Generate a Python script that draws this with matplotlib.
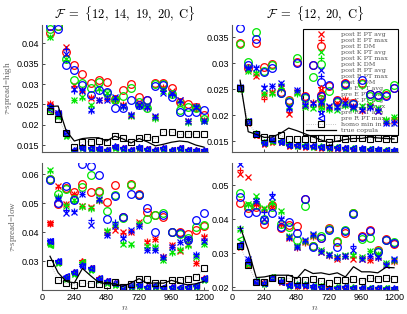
import matplotlib
matplotlib.use('Agg')
import matplotlib.pyplot as plt
from matplotlib.ticker import FuncFormatter
import numpy as np

plt.rcParams['font.family'] = ['Liberation Sans', 'DejaVu Sans']
plt.rcParams['mathtext.fontset'] = 'cm'

n = [60, 120, 180, 240, 300, 360, 420, 480, 540, 600, 660, 720, 780, 840, 900, 960, 1020, 1080, 1140, 1200]

# all values below in units of 1e-3
# ---- top left: F = {12,14,19,20,C}, tau-spread high
tl_dm_E = [42.5, 44.4, 37.9, 34.6, 32.6, 30.2, 31.0, 30.5, 26.4, 28.5, 30.0, 26.8, 26.2, 30.2, 30.2, 29.0, 25.6, 25.2, 24.4, 22.3]
tl_dm_K = [43.6, 44.4, 36.2, 31.0, 30.3, 29.1, 30.5, 27.8, 26.0, 27.0, 29.0, 25.6, 24.2, 30.0, 30.0, 27.6, 23.6, 24.4, 24.0, 21.5]
tl_dm_R = [44.4, 43.6, 34.6, 33.4, 29.7, 27.4, 28.6, 28.0, 24.0, 24.0, 26.0, 24.8, 26.0, 29.6, 29.8, 26.8, 23.2, 23.2, 23.2, 23.6]
tl_avg_E = [25.2, 22.8, 39.1, 29.7, 28.6, 26.5, 26.0, 26.6, 26.4, 24.8, 22.4, 25.0, 24.4, 22.0, 29.0, 28.2, 26.0, 20.8, 24.6, 21.2]
tl_avg_K = [41.7, 22.4, 36.2, 26.2, 26.8, 24.8, 29.1, 27.8, 26.0, 24.6, 22.2, 24.6, 24.8, 21.6, 28.4, 27.6, 25.4, 20.6, 24.2, 21.0]
tl_avg_R = [24.4, 23.0, 37.4, 28.8, 28.4, 23.6, 26.2, 26.2, 26.7, 24.6, 22.4, 24.8, 24.4, 22.2, 27.8, 27.7, 26.0, 20.8, 24.4, 21.0]
tl_max_E = [25.4, 22.6, 38.6, 29.6, 28.2, 26.7, 26.2, 26.4, 26.6, 25.0, 22.2, 24.8, 24.2, 21.8, 29.4, 27.9, 25.8, 21.0, 24.2, 21.2]
tl_max_K = [41.5, 22.2, 36.0, 26.0, 26.6, 24.6, 28.6, 27.6, 26.2, 24.4, 22.4, 24.6, 24.6, 21.4, 28.6, 27.4, 25.6, 20.4, 24.4, 21.2]
tl_max_R = [24.2, 23.2, 38.6, 28.4, 28.6, 23.4, 26.0, 26.4, 26.4, 24.4, 22.6, 24.6, 24.2, 22.0, 28.2, 27.4, 25.6, 20.8, 24.6, 20.8]
tl_pavg_E = [24.8, 22.6, 18.0, 13.5, 14.5, 14.3, 14.1, 13.9, 14.6, 14.3, 13.8, 14.4, 14.1, 13.8, 14.2, 13.9, 14.3, 13.8, 13.7, 13.6]
tl_pavg_K = [24.4, 22.2, 17.2, 13.3, 14.3, 14.1, 13.9, 13.7, 14.4, 14.1, 13.6, 14.2, 13.9, 13.6, 14.0, 13.7, 14.1, 13.6, 13.5, 13.4]
tl_pavg_R = [24.6, 22.9, 18.1, 13.9, 14.5, 14.4, 14.2, 13.9, 14.7, 14.3, 13.9, 14.5, 14.1, 13.9, 14.3, 13.9, 14.3, 13.9, 13.7, 13.7]
tl_pmax_E = [23.6, 22.4, 17.8, 13.6, 14.4, 14.2, 14.0, 13.8, 14.5, 14.2, 13.7, 14.3, 14.0, 13.7, 14.1, 13.8, 14.2, 13.7, 13.6, 13.5]
tl_pmax_K = [23.4, 22.2, 17.4, 13.4, 14.2, 14.0, 13.9, 13.6, 14.4, 14.0, 13.6, 14.2, 13.8, 13.6, 14.0, 13.6, 14.0, 13.6, 13.4, 13.4]
tl_pmax_R = [23.8, 22.6, 17.9, 13.8, 14.4, 14.3, 14.1, 13.8, 14.6, 14.2, 13.8, 14.4, 14.0, 13.8, 14.2, 13.8, 14.2, 13.8, 13.6, 13.6]
tl_homo = [23.3, 21.5, 17.9, 14.6, 15.8, 15.8, 16.0, 15.7, 17.2, 16.8, 15.8, 16.8, 17.0, 16.6, 18.3, 18.2, 17.6, 17.7, 17.7, 17.7]
tl_true = [24.5, 24.6, 18.5, 16.0, 16.6, 16.8, 16.8, 16.0, 17.2, 16.5, 15.5, 16.6, 15.8, 14.8, 15.2, 15.7, 16.0, 15.8, 15.0, 14.5]

# ---- top right: F = {12,20,C}, tau-spread high
tr_dm_E = [33.8, 29.0, 33.8, 29.3, 29.9, 24.5, 22.9, 30.3, 23.6, 29.6, 23.9, 25.5, 22.9, 26.1, 22.3, 26.2, 24.0, 23.8, 23.9, 25.3]
tr_dm_K = [33.6, 30.3, 36.0, 28.5, 29.6, 24.3, 22.7, 30.9, 23.2, 27.4, 23.0, 24.6, 22.6, 25.8, 22.1, 26.0, 23.7, 23.5, 24.2, 25.8]
tr_dm_R = [36.7, 29.6, 34.7, 28.2, 29.0, 24.2, 22.5, 30.0, 23.4, 29.7, 23.7, 25.7, 22.8, 25.9, 22.2, 26.7, 24.1, 23.8, 23.6, 25.3]
tr_avg_E = [25.3, 28.8, 27.5, 23.9, 24.5, 25.2, 20.3, 24.4, 22.0, 22.4, 22.2, 21.6, 22.4, 22.9, 21.7, 21.0, 21.8, 20.8, 18.8, 19.1]
tr_avg_K = [25.2, 28.4, 28.0, 24.2, 24.2, 25.5, 21.5, 24.2, 21.6, 21.4, 21.6, 21.2, 20.9, 22.0, 21.4, 21.8, 22.2, 21.4, 19.0, 19.7]
tr_avg_R = [25.4, 29.0, 29.0, 25.3, 25.6, 26.1, 21.3, 24.9, 22.0, 22.3, 22.5, 21.8, 21.6, 22.4, 21.6, 21.0, 21.6, 20.7, 18.4, 18.5]
tr_max_E = [25.1, 28.6, 27.8, 23.1, 24.5, 25.0, 20.5, 24.6, 21.8, 22.6, 22.0, 21.4, 22.2, 23.1, 21.5, 20.8, 22.0, 21.0, 18.6, 19.3]
tr_max_K = [25.0, 28.5, 28.2, 24.0, 24.0, 25.3, 21.3, 24.0, 21.7, 21.6, 21.4, 21.0, 21.1, 21.8, 21.2, 21.6, 22.0, 21.2, 19.2, 19.6]
tr_max_R = [25.5, 29.3, 29.2, 25.6, 25.6, 26.0, 21.1, 24.8, 22.2, 22.1, 22.3, 21.6, 21.4, 22.2, 21.8, 21.2, 21.4, 20.9, 18.5, 18.6]
tr_pavg_E = [25.2, 18.5, 16.1, 14.5, 14.9, 14.9, 14.1, 14.2, 13.9, 14.0, 13.7, 13.8, 13.6, 13.6, 13.4, 13.5, 13.2, 13.3, 13.0, 13.1]
tr_pavg_K = [25.0, 18.9, 16.5, 14.9, 15.0, 15.1, 14.4, 14.1, 14.2, 13.9, 14.0, 13.7, 13.9, 13.5, 13.7, 13.4, 13.5, 13.2, 13.3, 13.0]
tr_pavg_R = [25.4, 18.7, 16.3, 14.7, 15.3, 14.9, 14.2, 14.3, 14.0, 14.1, 13.8, 13.9, 13.7, 13.7, 13.5, 13.6, 13.3, 13.4, 13.1, 13.2]
tr_pmax_E = [25.3, 18.6, 16.2, 14.6, 15.0, 14.8, 14.2, 14.1, 14.0, 13.9, 13.8, 13.7, 13.7, 13.5, 13.5, 13.4, 13.3, 13.2, 13.1, 13.0]
tr_pmax_K = [25.1, 18.7, 16.3, 14.7, 15.1, 14.9, 14.3, 14.2, 14.1, 14.0, 13.9, 13.8, 13.8, 13.6, 13.6, 13.5, 13.4, 13.3, 13.2, 13.1]
tr_pmax_R = [25.3, 18.8, 16.4, 14.8, 15.2, 15.0, 14.3, 14.2, 14.1, 14.0, 13.9, 13.8, 13.8, 13.6, 13.6, 13.5, 13.4, 13.3, 13.2, 13.1]
tr_homo = [25.3, 18.6, 16.3, 15.7, 15.6, 16.1, 15.4, 15.4, 15.4, 15.3, 15.5, 14.8, 15.6, 15.3, 15.5, 15.5, 15.3, 15.6, 15.3, 15.3]
tr_true = [26.7, 16.8, 16.3, 15.7, 15.8, 16.5, 17.5, 17.0, 16.4, 15.8, 15.2, 14.7, 15.0, 15.3, 15.5, 15.5, 15.8, 15.6, 15.5, 15.4]

# ---- bottom left: F = {12,14,19,20,C}, tau-spread low
bl_dm_E = [58.2, 49.8, 55.4, 54.0, 56.8, 54.0, 54.2, 50.5, 56.2, 45.3, 56.8, 53.3, 47.0, 45.9, 45.3, 40.1, 40.1, 39.5, 40.7, 42.0]
bl_dm_K = [58.5, 53.3, 55.0, 51.6, 55.6, 59.7, 54.0, 47.4, 52.8, 45.0, 56.4, 53.0, 44.7, 45.9, 46.5, 40.2, 39.3, 38.0, 41.8, 42.4]
bl_dm_R = [58.0, 50.0, 55.9, 51.2, 63.4, 62.8, 59.7, 44.7, 52.6, 45.3, 53.3, 52.8, 48.2, 40.1, 45.9, 40.1, 39.8, 37.2, 44.1, 46.5]
bl_avg_E = [43.2, 55.9, 49.7, 53.3, 48.9, 48.7, 51.0, 40.0, 40.7, 40.1, 40.0, 43.6, 36.7, 37.8, 31.5, 35.5, 33.5, 36.0, 29.4, 38.4]
bl_avg_K = [61.6, 52.0, 49.0, 51.0, 48.9, 48.2, 51.2, 40.4, 43.0, 36.1, 35.8, 43.0, 35.2, 35.0, 30.3, 33.0, 34.0, 35.6, 31.6, 36.1]
bl_avg_R = [36.8, 51.5, 46.6, 47.0, 53.3, 42.4, 51.3, 39.0, 42.0, 38.1, 40.7, 42.0, 33.8, 33.8, 31.5, 35.0, 36.7, 37.8, 32.1, 37.0]
bl_max_E = [43.0, 55.6, 49.7, 53.3, 48.9, 48.4, 50.8, 40.2, 41.8, 39.9, 40.2, 43.2, 37.0, 37.6, 31.8, 35.7, 33.8, 36.3, 29.2, 38.6]
bl_max_K = [61.0, 52.4, 49.4, 50.8, 48.6, 48.0, 51.0, 40.6, 42.6, 36.3, 35.6, 43.2, 35.0, 35.2, 30.5, 32.8, 34.2, 35.4, 31.8, 36.0]
bl_max_R = [36.6, 51.8, 47.6, 47.4, 53.1, 44.1, 51.1, 39.2, 43.6, 38.3, 40.5, 42.2, 34.0, 34.0, 31.3, 34.8, 36.5, 37.6, 32.6, 37.2]
bl_pavg_E = [43.2, 29.6, 24.4, 26.2, 30.0, 27.6, 24.1, 23.1, 22.4, 21.1, 21.7, 21.9, 21.1, 21.6, 20.9, 21.1, 20.9, 21.1, 21.6, 24.1]
bl_pavg_K = [35.8, 29.4, 24.0, 25.6, 29.4, 27.1, 23.6, 22.6, 21.9, 20.6, 21.2, 21.4, 20.6, 21.1, 20.4, 20.6, 20.4, 20.6, 21.1, 23.6]
bl_pavg_R = [37.0, 29.9, 24.6, 26.1, 28.8, 27.7, 24.0, 23.0, 22.3, 21.0, 21.6, 21.8, 21.0, 21.5, 20.8, 21.0, 20.8, 21.0, 21.5, 24.0]
bl_pmax_E = [36.0, 29.8, 24.5, 26.0, 29.8, 27.5, 24.0, 23.0, 22.3, 21.0, 21.6, 21.8, 21.0, 21.5, 20.8, 21.0, 20.8, 21.0, 21.5, 24.0]
bl_pmax_K = [35.5, 29.6, 24.2, 25.8, 29.6, 27.3, 23.8, 22.8, 22.1, 20.8, 21.4, 21.6, 20.8, 21.3, 20.6, 20.8, 20.6, 20.8, 21.3, 23.8]
bl_pmax_R = [36.8, 30.0, 24.8, 26.3, 28.5, 27.8, 24.2, 23.2, 22.5, 21.2, 21.8, 22.0, 21.2, 21.7, 21.0, 21.2, 21.0, 21.2, 21.7, 24.2]
bl_homo = [29.2, 23.6, 22.3, 21.7, 22.5, 22.2, 22.2, 21.7, 22.9, 21.0, 22.0, 24.0, 24.0, 22.5, 22.3, 23.4, 23.6, 24.0, 24.6, 27.5]
bl_true = [31.7, 26.0, 23.0, 22.5, 27.5, 25.0, 22.7, 22.2, 22.2, 21.3, 22.5, 24.0, 22.3, 22.5, 22.4, 23.4, 22.5, 21.8, 22.2, 23.0]

# ---- bottom right: F = {12,20,C}, tau-spread low
br_dm_E = [44.8, 43.3, 43.6, 38.7, 44.1, 37.3, 38.2, 38.0, 46.1, 32.2, 34.6, 37.5, 33.3, 36.0, 41.9, 35.0, 36.8, 30.9, 34.3, 32.6]
br_dm_K = [47.7, 43.8, 44.1, 40.0, 43.5, 38.7, 37.6, 34.0, 43.8, 32.0, 35.0, 37.1, 33.6, 36.8, 41.7, 34.3, 34.5, 30.6, 34.0, 33.2]
br_dm_R = [46.6, 41.7, 42.2, 39.7, 41.9, 37.6, 39.2, 36.0, 46.1, 31.9, 34.4, 36.8, 31.9, 36.5, 41.5, 34.8, 36.5, 30.4, 34.0, 32.9]
br_avg_E = [53.2, 52.5, 44.6, 43.0, 44.0, 38.5, 34.5, 31.8, 33.3, 35.0, 30.4, 29.4, 28.4, 29.1, 28.4, 28.4, 27.9, 28.8, 26.5, 27.6]
br_avg_K = [37.0, 44.6, 46.8, 43.3, 45.0, 42.4, 35.0, 32.2, 33.6, 35.3, 30.8, 29.8, 29.0, 29.4, 29.6, 28.8, 30.7, 29.9, 27.0, 28.0]
br_avg_R = [56.4, 28.4, 45.5, 40.2, 46.6, 40.2, 34.8, 31.7, 33.8, 35.6, 30.4, 29.6, 28.8, 29.1, 30.9, 28.4, 29.1, 28.9, 26.5, 28.2]
br_max_E = [54.4, 26.8, 44.2, 42.8, 43.8, 38.3, 34.7, 31.6, 33.1, 34.8, 30.6, 29.2, 28.6, 29.3, 28.9, 28.6, 28.1, 28.6, 26.7, 27.4]
br_max_K = [36.8, 44.2, 46.4, 43.1, 44.8, 42.2, 35.2, 32.0, 33.4, 35.1, 30.6, 29.6, 29.2, 29.2, 29.8, 28.6, 30.5, 29.7, 27.2, 27.8]
br_max_R = [37.3, 28.2, 45.5, 42.2, 47.5, 40.4, 34.6, 31.9, 33.6, 35.4, 30.6, 29.4, 28.6, 29.3, 32.0, 28.6, 29.3, 28.7, 26.7, 28.0]
br_pavg_E = [31.8, 26.4, 21.4, 21.4, 22.7, 21.4, 20.8, 20.4, 20.4, 20.1, 19.9, 19.6, 19.7, 19.9, 19.5, 19.7, 19.4, 19.6, 19.3, 19.5]
br_pavg_K = [32.2, 26.8, 21.9, 21.0, 23.0, 21.9, 20.4, 20.8, 20.8, 20.1, 20.3, 19.3, 20.0, 19.9, 19.9, 19.7, 19.7, 19.6, 19.7, 19.4]
br_pavg_R = [32.4, 27.6, 21.7, 21.3, 22.6, 21.7, 20.7, 20.5, 20.7, 20.2, 20.0, 19.4, 19.7, 20.0, 19.6, 19.8, 19.5, 19.7, 19.4, 19.6]
br_pmax_E = [32.0, 26.6, 21.5, 21.3, 22.6, 21.5, 20.7, 20.5, 20.5, 20.0, 20.0, 19.5, 19.8, 19.8, 19.6, 19.6, 19.5, 19.5, 19.4, 19.4]
br_pmax_K = [34.3, 27.0, 21.8, 21.1, 22.9, 21.8, 20.5, 20.7, 20.7, 20.2, 20.2, 19.4, 19.9, 20.0, 19.8, 19.8, 19.6, 19.7, 19.6, 19.5]
br_pmax_R = [32.6, 27.4, 21.6, 21.2, 22.8, 21.6, 20.6, 20.6, 20.6, 20.1, 20.1, 19.3, 19.8, 19.9, 19.7, 19.7, 19.6, 19.6, 19.5, 19.5]
br_homo = [32.2, 26.5, 21.6, 21.6, 22.7, 22.2, 22.6, 22.0, 22.2, 22.4, 21.7, 21.1, 22.0, 22.0, 22.4, 21.8, 22.7, 22.4, 22.7, 22.3]
br_true = [37.8, 31.0, 22.8, 23.0, 23.5, 23.5, 23.5, 22.5, 25.2, 24.0, 24.2, 23.7, 24.2, 23.0, 26.0, 24.5, 24.5, 24.2, 25.8, 25.7]

labels = ['post E PT avg', 'post E PT max', 'post E DM',
          'post K PT avg', 'post K PT max', 'post K DM',
          'post R PT avg', 'post R PT max', 'post R DM',
          'pre E PT avg', 'pre E PT max', 'pre K PT avg', 'pre K PT max',
          'pre R PT avg', 'pre R PT max', 'homo min in avg', 'true copula']

panels = [
    dict(data=[tl_avg_E, tl_max_E, tl_dm_E, tl_avg_K, tl_max_K, tl_dm_K, tl_avg_R, tl_max_R, tl_dm_R,
               tl_pavg_E, tl_pmax_E, tl_pavg_K, tl_pmax_K, tl_pavg_R, tl_pmax_R, tl_homo, tl_true],
         pos=[0.103, 0.516, 0.408, 0.404], ylim=(13.3, 44.5), yt=[15, 20, 25, 30, 35, 40],
         title=r'$\mathcal{F}\ =\ \{12,\ 14,\ 19,\ 20,\ \mathrm{C}\}$', ylab='high'),
    dict(data=[tr_avg_E, tr_max_E, tr_dm_E, tr_avg_K, tr_max_K, tr_dm_K, tr_avg_R, tr_max_R, tr_dm_R,
               tr_pavg_E, tr_pmax_E, tr_pavg_K, tr_pmax_K, tr_pavg_R, tr_pmax_R, tr_homo, tr_true],
         pos=[0.570, 0.516, 0.408, 0.404], ylim=(12.9, 37.3), yt=[15, 20, 25, 30, 35],
         title=r'$\mathcal{F}\ =\ \{12,\ 20,\ \mathrm{C}\}$', ylab=None),
    dict(data=[bl_avg_E, bl_max_E, bl_dm_E, bl_avg_K, bl_max_K, bl_dm_K, bl_avg_R, bl_max_R, bl_dm_R,
               bl_pavg_E, bl_pmax_E, bl_pavg_K, bl_pmax_K, bl_pavg_R, bl_pmax_R, bl_homo, bl_true],
         pos=[0.103, 0.076, 0.408, 0.404], ylim=(20.0, 63.8), yt=[30, 40, 50, 60],
         title=None, ylab='low'),
    dict(data=[br_avg_E, br_max_E, br_dm_E, br_avg_K, br_max_K, br_dm_K, br_avg_R, br_max_R, br_dm_R,
               br_pavg_E, br_pmax_E, br_pavg_K, br_pmax_K, br_pavg_R, br_pmax_R, br_homo, br_true],
         pos=[0.570, 0.076, 0.408, 0.404], ylim=(19.1, 56.5), yt=[20, 30, 40, 50],
         title=None, ylab=None),
]

R, G, B = (1, 0, 0), (0, 0.9, 0), (0, 0, 1)
styles = [('x', R, 4.0), ('+', R, 4.5), ('o', R, 5.5),
          ('x', G, 4.0), ('+', G, 4.5), ('o', G, 5.5),
          ('x', B, 4.0), ('+', B, 4.5), ('o', B, 5.5),
          ('*', R, 4.5), ('<', R, 4.0), ('*', G, 4.5), ('<', G, 4.0),
          ('*', B, 4.5), ('<', B, 4.0)]

fig = plt.figure(figsize=(4.07, 3.14), dpi=100)
nn = np.array(n)

for k, p in enumerate(panels):
    ax = fig.add_axes(p['pos'])
    handles = []
    for (m, c, ms), vals in zip(styles, p['data'][:15]):
        h, = ax.plot(nn, np.array(vals), linestyle='none', marker=m, color=c,
                     markerfacecolor='none', markersize=ms, markeredgewidth=0.9)
        handles.append(h)
    h, = ax.plot(nn, np.array(p['data'][15]), linestyle=':', color='0.7', linewidth=0.6,
                 marker='s', markersize=4.3, markerfacecolor='none',
                 markeredgecolor='k', markeredgewidth=0.8)
    handles.append(h)
    h, = ax.plot(nn, np.array(p['data'][16]), '-', color='k', linewidth=0.9)
    handles.append(h)

    ax.set_xlim(0, 1230)
    ax.set_ylim(*p['ylim'])
    ax.set_xticks([0, 240, 480, 720, 960, 1200])
    ax.set_yticks(p['yt'])
    ax.yaxis.set_major_formatter(FuncFormatter(lambda v, q: '%g' % (v / 1000)))
    ax.tick_params(direction='in', length=2, width=0.5, labelsize=6.5, pad=2)
    for s in ['top', 'right']:
        ax.spines[s].set_visible(False)
    for s in ['left', 'bottom']:
        ax.spines[s].set_color('0.35')
        ax.spines[s].set_linewidth(0.8)
    if k < 2:
        ax.tick_params(labelbottom=False)
    else:
        ax.set_xlabel(r'$n$', fontsize=7, labelpad=0, color='0.3')
    if p['title']:
        ax.set_title(p['title'], fontsize=9, pad=5)
    if p['ylab']:
        ax.set_ylabel(r'$\tau$-spread=' + p['ylab'], fontsize=6.5, color='0.4',
                      family='Liberation Serif', labelpad=2)
    if k == 1:
        leg = ax.legend(handles, labels, loc='upper left', bbox_to_anchor=(0.428, 0.969),
                        prop={'family': 'DejaVu Serif', 'size': 4.6},
                        labelspacing=0.08, handlelength=4.7, handletextpad=0.8,
                        borderpad=0.4, borderaxespad=0, fancybox=False,
                        edgecolor='k', framealpha=1, numpoints=1)
        leg.get_frame().set_linewidth(0.8)
        for t in leg.get_texts():
            t.set_color('0.35')
        leg.set_zorder(1)

fig.savefig('out.png', dpi=100)
